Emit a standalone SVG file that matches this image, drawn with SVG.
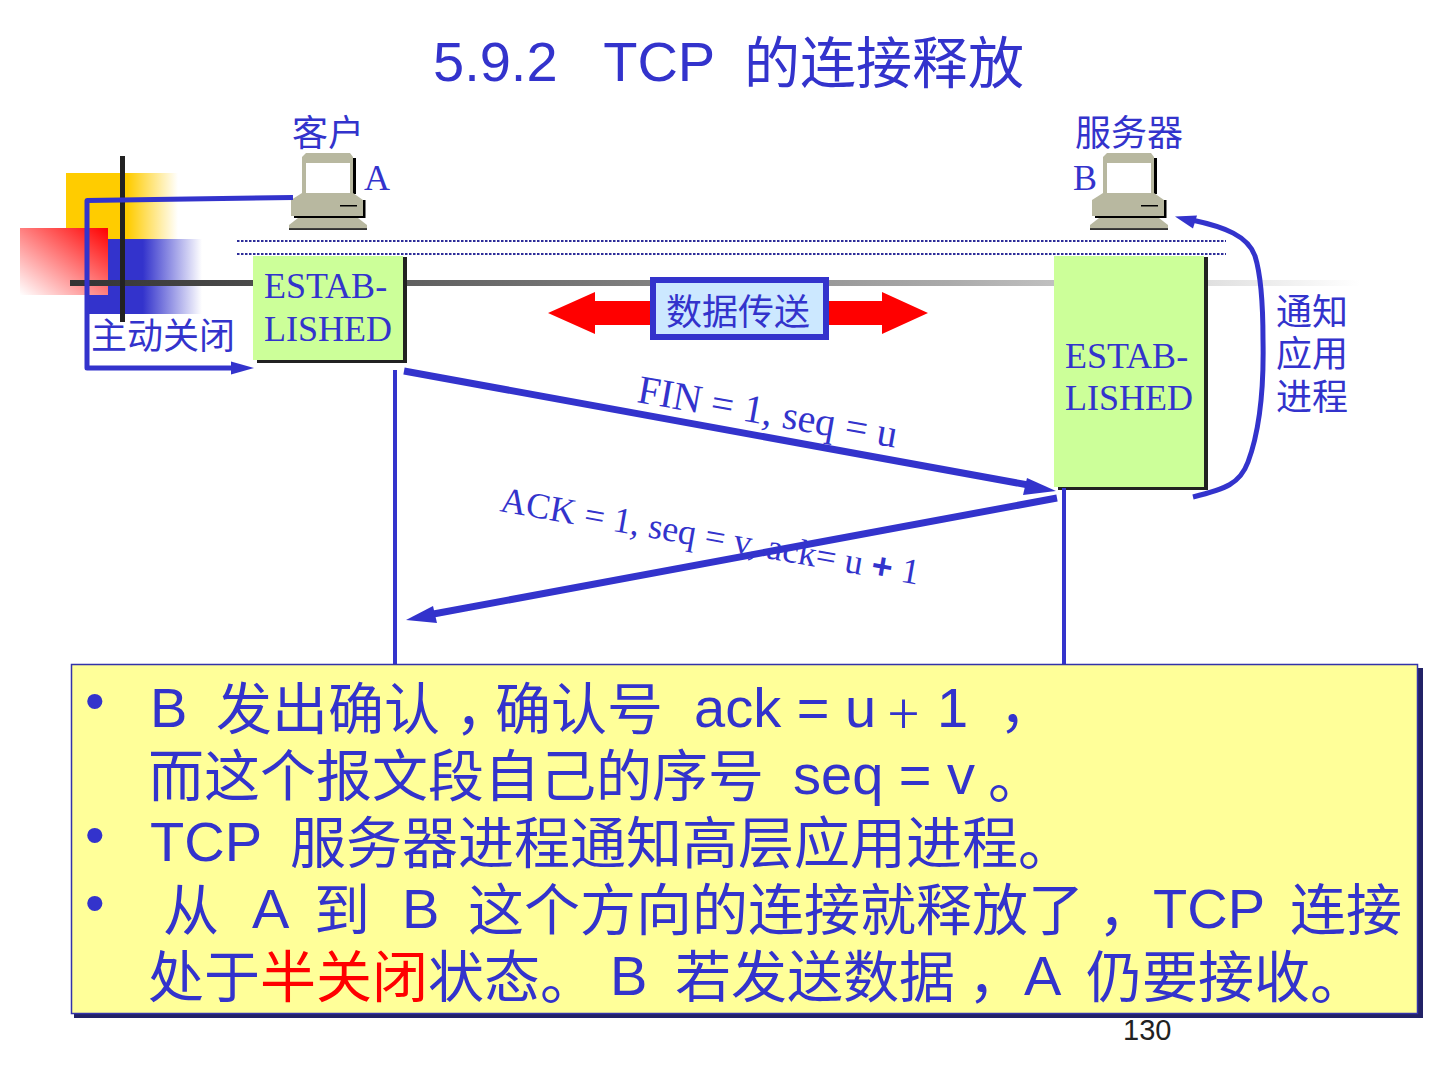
<svg xmlns="http://www.w3.org/2000/svg" width="1440" height="1080" viewBox="0 0 1440 1080">
<style>
text{fill:#3333cc;white-space:pre}
.s{font-family:"Liberation Serif","Noto Sans CJK SC",serif;font-size:36px}
.c{font-family:"Noto Sans CJK SC",sans-serif;font-size:36px}
.h{font-family:"Liberation Sans","Noto Sans CJK SC",sans-serif;font-size:56px}
.b{font-family:"Liberation Sans","Noto Sans CJK SC",sans-serif;font-size:56px}
.st{fill:none;stroke:#3333cc;stroke-linecap:butt}
.hd{fill:#3333cc}
.dot{stroke:#2d2d99;stroke-width:2;stroke-dasharray:2.5 1.5}
.pc1{fill:#b8b8a0}
</style>
<defs>
<linearGradient id="gy"><stop offset="0.55" stop-color="#ffcc00"/><stop offset="1" stop-color="#ffcc00" stop-opacity="0"/></linearGradient>
<linearGradient id="gb"><stop offset="0.49" stop-color="#3333cc"/><stop offset="1" stop-color="#3333cc" stop-opacity="0"/></linearGradient>
<linearGradient id="gr" x1="1" y1="0" x2="0" y2="1"><stop offset="0" stop-color="#ff0000"/><stop offset="1" stop-color="#ffffff"/></linearGradient>
<linearGradient id="gl"><stop offset="0" stop-color="#333333"/><stop offset="0.36" stop-color="#707070"/><stop offset="0.68" stop-color="#aaaaaa"/><stop offset="1" stop-color="#ffffff"/></linearGradient>
<g id="pc">
<rect x="353" y="158" width="3" height="36" fill="#000"/>
<path d="M306 153h44l3 4v37h-51v-37z" class="pc1"/>
<rect x="306" y="163" width="44" height="30" fill="#fff"/>
<path d="M302 193h51l10 7v16h-72v-16z" class="pc1"/>
<path d="M363 200h2.500v18H294v-2h69z" fill="#000"/>
<rect x="340" y="205" width="17" height="1.500" fill="#000"/>
<path d="M298 218h60l9 7v3.500h-78v-3.500z" class="pc1"/>
<rect x="289" y="228.300" width="78" height="1.500" fill="#000"/>
</g>
</defs>
<rect width="1440" height="1080" fill="#fff"/>
<g id="decor">
<rect x="66" y="173" width="112" height="66" fill="url(#gy)"/>
<rect x="86" y="239" width="116" height="75" fill="url(#gb)"/>
<rect x="20" y="228" width="88" height="67" fill="url(#gr)"/>
<rect x="70" y="280" width="1290" height="6" fill="url(#gl)"/>
<rect x="120" y="156" width="5" height="166" fill="#222"/>
</g>
<text class="h" y="81"><tspan x="433">5.9.2   TCP</tspan><tspan x="744" y="83">的连接释放</tspan></text>
<g id="client">
<use href="#pc"/>
<text class="c" x="292" y="146">客户</text>
<text class="s" x="364" y="190">A</text>
</g>
<g id="server">
<use href="#pc" x="801"/>
<text class="c" x="1075" y="146">服务器</text>
<text class="s" x="1073" y="190">B</text>
</g>
<g id="network">
<line class="dot" x1="237" y1="241" x2="1226" y2="241"/>
<line class="dot" x1="237" y1="254" x2="1226" y2="254"/>
</g>
<g id="estab-a">
<rect x="257" y="257" width="150" height="106" fill="#222"/>
<rect x="253" y="256" width="150" height="104" fill="#ccff99"/>
<text class="s" x="264" y="298">ESTAB-</text>
<text class="s" x="264" y="341">LISHED</text>
</g>
<g id="estab-b">
<rect x="1058" y="257" width="150" height="233" fill="#222"/>
<rect x="1054" y="256" width="150" height="231" fill="#ccff99"/>
<text class="s" x="1065" y="368">ESTAB-</text>
<text class="s" x="1065" y="410">LISHED</text>
</g>
<g id="data-transfer">
<path d="M548 313l47-21v9h287v-9l46 21-46 21v-9H595v9z" fill="#ff0000"/>
<rect x="653" y="280" width="173" height="57" fill="#cce8ff" stroke="#3333cc" stroke-width="6"/>
<text class="c" x="666" y="325">数据传送</text>
</g>
<g id="connectors">
<path class="st" stroke-width="5" stroke-linejoin="round" d="M293 197.500L87 200.500V368H235"/>
<path class="hd" d="M254 368l-23-6.500v13z"/>
<line class="st" stroke-width="4" x1="395" y1="370" x2="395" y2="664"/>
<line class="st" stroke-width="4" x1="1064" y1="488" x2="1064" y2="664"/>
<line class="st" stroke-width="7" x1="404" y1="371" x2="1034" y2="486"/>
<path class="hd" d="M1056 491l-29-13-4 17z"/>
<line class="st" stroke-width="7" x1="1057" y1="498" x2="428" y2="615"/>
<path class="hd" d="M406 620l27-14 4 17z"/>
<path class="st" stroke-width="5" d="M1193 497C1225 489 1240 484 1248 462C1260 430 1264 390 1263 340C1263 300 1261 275 1255 256C1248 236 1225 227 1192 220"/>
<path class="hd" d="M1175 216.500l22-1-4 13z"/>
</g>
<text class="c" x="91" y="349">主动关闭</text>
<g class="c"><text x="1276" y="325">通知</text><text x="1276" y="367">应用</text><text x="1276" y="410">进程</text></g>
<text class="s" style="font-size:40px" transform="translate(636 402) rotate(10)">FIN = 1, seq = u</text>
<text class="s" transform="translate(499 511) rotate(10)">ACK = 1, seq = v, ack= u <tspan style="font-family:'Liberation Sans',sans-serif;font-weight:bold">+</tspan> 1</text>
<g id="note">
<rect x="74" y="668" width="1349" height="350" fill="#222266"/>
<rect x="71.500" y="664.500" width="1346" height="349" fill="#ffff99" stroke="#3333aa" stroke-width="1.500"/>
<g class="b">
<text x="85" y="720">•</text><text x="85" y="854">•</text><text x="85" y="922">•</text>
<text><tspan x="150" y="727">B</tspan><tspan x="216" y="729">发出确认</tspan><tspan x="455">，</tspan><tspan x="495">确认号</tspan><tspan x="694" y="727">ack = u</tspan><tspan x="888" y="735" style="font-family:'Noto Sans CJK SC',sans-serif;font-weight:300;font-size:58px">+</tspan><tspan x="937" y="727">1</tspan><tspan x="999">，</tspan></text>
<text><tspan x="148" y="796">而这个报文段自己的序号</tspan><tspan x="793" y="794">seq = v</tspan><tspan x="988" y="798">。</tspan></text>
<text><tspan x="150" y="861">TCP</tspan><tspan x="290" y="863">服务器进程通知高层应用进程</tspan><tspan y="865">。</tspan></text>
<text><tspan x="163" y="930">从</tspan><tspan x="252" y="928">A</tspan><tspan x="314" y="930">到</tspan><tspan x="402" y="928">B</tspan><tspan x="468" y="930">这个方向的连接就释放了</tspan><tspan x="1098">，</tspan><tspan x="1153" y="928">TCP</tspan><tspan x="1290" y="930">连接</tspan></text>
<text><tspan x="148" y="997">处于</tspan><tspan fill="#ff0000">半关闭</tspan><tspan>状态</tspan><tspan y="999">。</tspan><tspan x="610" y="995">B</tspan><tspan x="675" y="997">若发送数据</tspan><tspan x="968">，</tspan><tspan x="1024" y="995">A</tspan><tspan x="1086" y="997">仍要接收</tspan><tspan y="999">。</tspan></text>
</g>
</g>
<text x="1123" y="1040" style="font-family:'Liberation Sans',sans-serif;font-size:29px;fill:#222">130</text>
</svg>
